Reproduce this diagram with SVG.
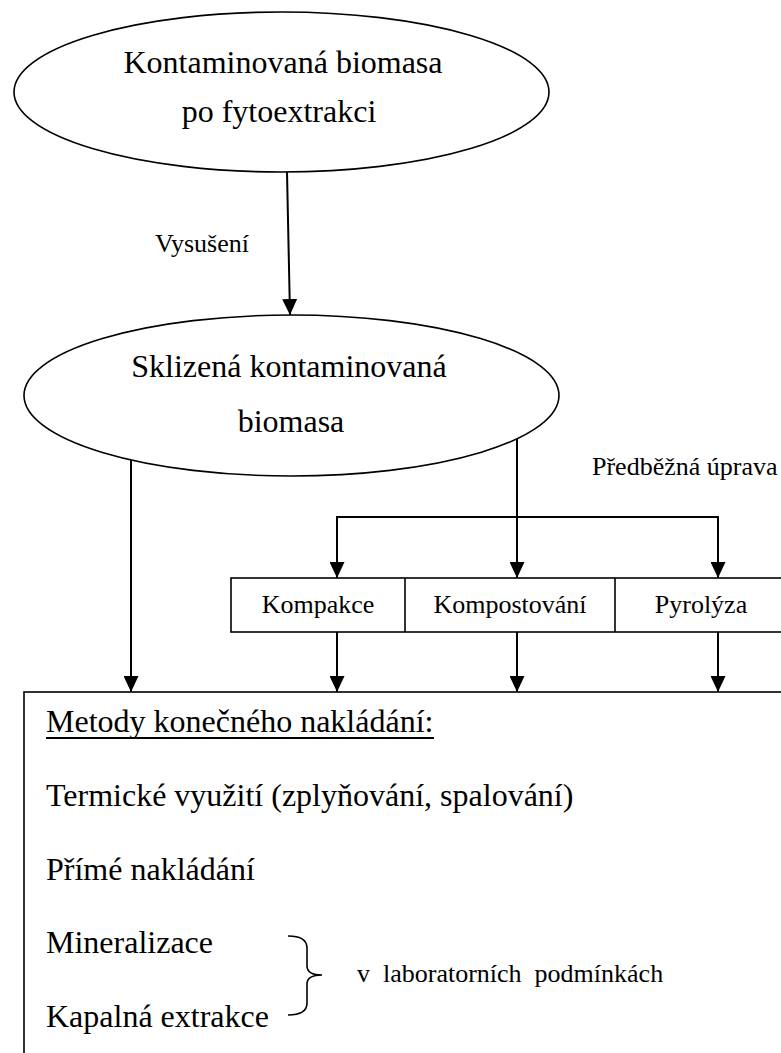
<svg xmlns="http://www.w3.org/2000/svg" width="781" height="1053" viewBox="0 0 781 1053">
<style>
text{font-family:"Liberation Serif","Times New Roman",serif;fill:#000}
.big{font-size:32px}
.small{font-size:26px}
.c{text-anchor:middle}
.shape{fill:#fff;stroke:#000;stroke-width:1.6}
.conn{fill:none;stroke:#000;stroke-width:2;marker-end:url(#arr)}
</style>
<defs>
<marker id="arr" viewBox="0 0 16 15" markerWidth="16" markerHeight="15" refX="16" refY="7.5" orient="auto" markerUnits="userSpaceOnUse">
<path d="M0,0 L16,7.5 L0,15 z" fill="#000"/>
</marker>
</defs>
<rect width="781" height="1053" fill="#fff"/>
<g id="connectors">
<path class="conn" d="M287,172 L290,315"/>
<path class="conn" d="M131,460 V692"/>
<path class="conn" d="M517,439 V578"/>
<path class="conn" d="M517,517 H337 V578"/>
<path class="conn" d="M517,517 H718 V578"/>
<path class="conn" d="M337,632 V692"/>
<path class="conn" d="M517,632 V692"/>
<path class="conn" d="M718,632 V692"/>
<text class="small" x="155" y="252">Vysušení</text>
<text class="small" x="592" y="475">Předběžná úprava</text>
</g>
<g id="node-biomasa">
<ellipse class="shape" cx="281.5" cy="92" rx="267.5" ry="80"/>
<text class="big c" x="283" y="73">Kontaminovaná biomasa</text>
<text class="big c" x="279" y="122">po fytoextrakci</text>
</g>
<g id="node-sklizena">
<ellipse class="shape" cx="291.5" cy="395.5" rx="267.5" ry="80.5"/>
<text class="big c" x="289" y="377">Sklizená kontaminovaná</text>
<text class="big c" x="291" y="432">biomasa</text>
</g>
<g id="node-uprava">
<rect class="shape" x="231" y="578" width="556" height="54"/>
<line x1="405" y1="578" x2="405" y2="632" stroke="#000" stroke-width="1.6"/>
<line x1="615" y1="578" x2="615" y2="632" stroke="#000" stroke-width="1.6"/>
<text class="small c" x="318" y="613">Kompakce</text>
<text class="small c" x="510" y="613">Kompostování</text>
<text class="small c" x="701" y="613">Pyrolýza</text>
</g>
<g id="node-metody">
<rect class="shape" x="24" y="692" width="800" height="400"/>
<text class="big" x="46" y="732">Metody konečného nakládání:</text>
<line x1="46" y1="738" x2="434" y2="738" stroke="#000" stroke-width="2"/>
<text class="big" x="46" y="806">Termické využití (zplyňování, spalování)</text>
<text class="big" x="46" y="880">Přímé nakládání</text>
<text class="big" x="46" y="953">Mineralizace</text>
<text class="big" x="46" y="1027">Kapalná extrakce</text>
<path d="M288,936 Q307,936 307,948 L307,966 Q307,975 322,975 Q307,975 307,984 L307,1003 Q307,1015 288,1015" fill="none" stroke="#000" stroke-width="1.6"/>
<text class="small" x="357" y="982" xml:space="preserve">v  laboratorních  podmínkách</text>
</g>
</svg>
